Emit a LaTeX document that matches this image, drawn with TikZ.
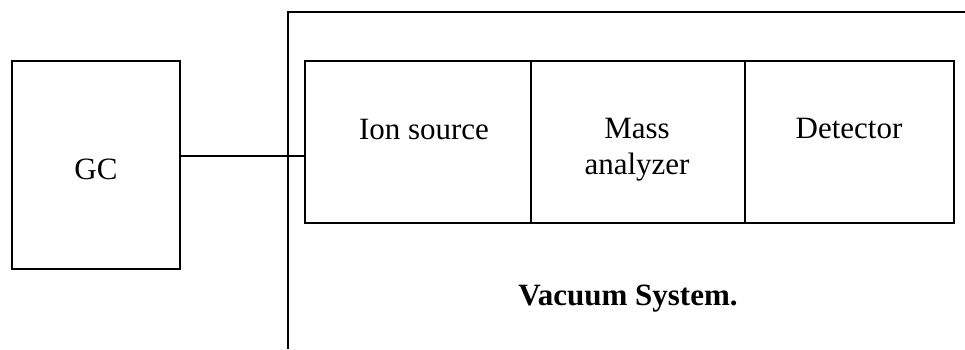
\documentclass[tikz,border=0pt]{standalone}
\usepackage{fontspec}
\setmainfont{Liberation Serif}
\begin{document}
\begin{tikzpicture}[x=1pt,y=-1pt,
  cell/.style={draw=black, line width=1.8pt, inner sep=0pt, minimum height=162pt},
  lbl/.style={anchor=base, inner sep=0pt, font=\fontsize{31}{36}\selectfont},
  frame/.style={line width=2.2pt}]
\useasboundingbox (0,0) rectangle (965,349);
% GC box
\node[cell, minimum width=168pt, minimum height=208pt] (gc) at (96,165) {};
\node[lbl] (gct) at (96,179) {GC};
% cells
\node[cell, minimum width=226pt] (ion) at (418,142) {};
\node[cell, minimum width=214pt] (mass) at (638,142) {};
\node[cell, minimum width=209pt] (det) at (849.5,142) {};
\node[lbl] (iont) at (424,139) {Ion source};
\node[lbl] (masst1) at (637,138.5) {Mass};
\node[lbl] (masst2) at (637,174.5) {analyzer};
\node[lbl] (dett) at (849,138.5) {Detector};
% vacuum frame
\coordinate (vtr) at (965,12.3);
\coordinate (vtl) at (287.7,12.3);
\coordinate (vbl) at (287.7,349);
\draw[frame] (vtr) -- (vtl) -- (vbl);
\node[lbl, font=\fontsize{31}{36}\selectfont\bfseries] (vac) at (628,305) {Vacuum System.};
% connector
\coordinate (cy) at (0,156);
\draw[line width=1.8pt] (gc.east |- cy) -- (ion.west |- cy);
\end{tikzpicture}
\end{document}
